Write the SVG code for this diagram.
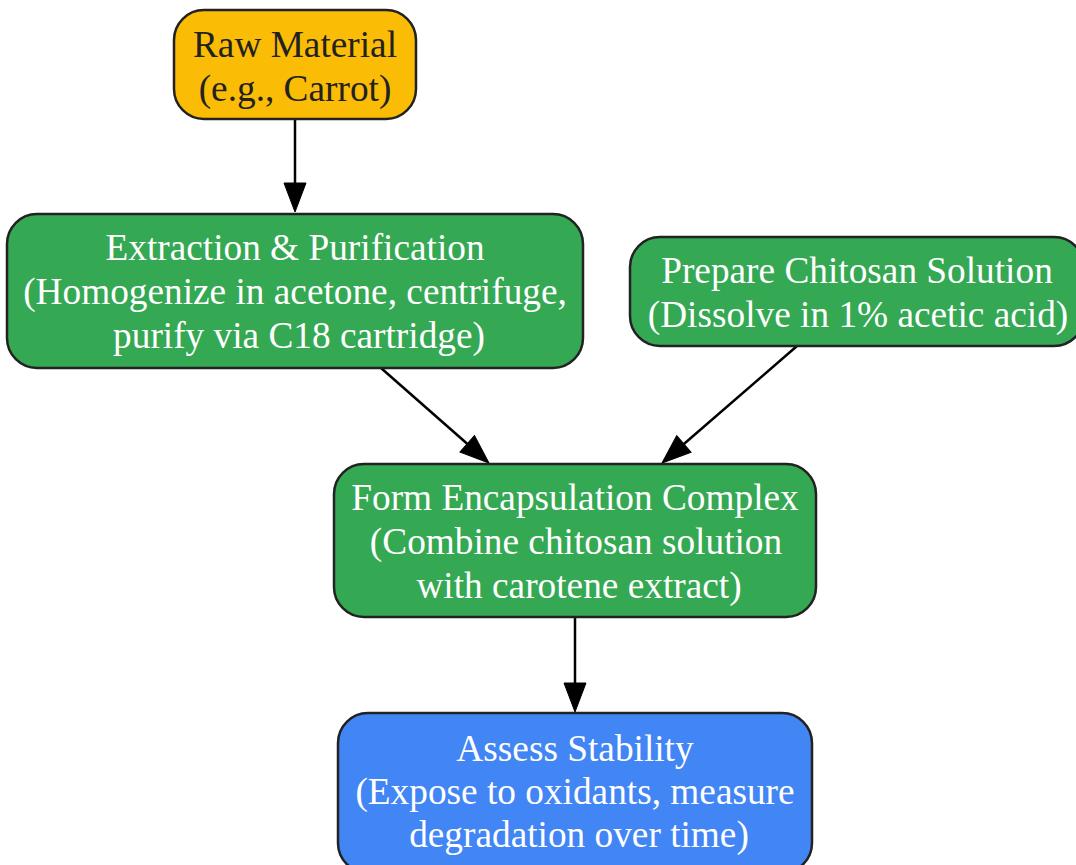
<svg xmlns="http://www.w3.org/2000/svg" width="1076" height="865" viewBox="0 0 1076 865">
<style>
.n{stroke:#222;stroke-width:2.5}
.t{font-family:"Liberation Serif","Times New Roman",serif;font-size:37.3px;text-anchor:middle}
.w{fill:#ffffff}
.d{fill:#222222}
.e{stroke:#000;stroke-width:2.5;fill:none}
</style>
<defs>
<marker id="ah" markerUnits="userSpaceOnUse" markerWidth="32" markerHeight="26" refX="0" refY="0" viewBox="-1 -13 32 26" orient="auto">
<path d="M0,-11 L29,0 L0,11 z" fill="#000" stroke="#000" stroke-width="1"/>
</marker>
</defs>
<rect width="1076" height="865" fill="#fff"/>
<g id="connectors">
<line class="e" x1="295" y1="119" x2="295" y2="183" marker-end="url(#ah)"/>
<line class="e" x1="381" y1="368" x2="467.2" y2="443.8" marker-end="url(#ah)"/>
<line class="e" x1="797" y1="346" x2="683.9" y2="444" marker-end="url(#ah)"/>
<line class="e" x1="575" y1="617" x2="575" y2="683" marker-end="url(#ah)"/>
</g>
<g id="raw">
<rect class="n" x="174" y="10" width="242" height="109" rx="30" fill="#FBBC05"/>
<text class="t d" x="295" y="57">Raw Material</text>
<text class="t d" x="295" y="101">(e.g., Carrot)</text>
</g>
<g id="extraction">
<rect class="n" x="7" y="214" width="576" height="154" rx="30" fill="#34A853"/>
<text class="t w" x="295" y="260">Extraction &amp; Purification</text>
<text class="t w" x="295" y="304">(Homogenize in acetone, centrifuge,</text>
<text class="t w" x="299" y="348">purify via C18 cartridge)</text>
</g>
<g id="chitosan">
<rect class="n" x="630" y="237" width="454" height="109" rx="30" fill="#34A853"/>
<text class="t w" x="857" y="283">Prepare Chitosan Solution</text>
<text class="t w" x="858" y="327">(Dissolve in 1% acetic acid)</text>
</g>
<g id="complex">
<rect class="n" x="334" y="464" width="482" height="153" rx="30" fill="#34A853"/>
<text class="t w" x="575" y="510">Form Encapsulation Complex</text>
<text class="t w" x="576" y="554">(Combine chitosan solution</text>
<text class="t w" x="579" y="598">with carotene extract)</text>
</g>
<g id="stability">
<rect class="n" x="338" y="713" width="474" height="160" rx="30" fill="#4285F4"/>
<text class="t w" x="575" y="761">Assess Stability</text>
<text class="t w" x="575" y="804">(Expose to oxidants, measure</text>
<text class="t w" x="579" y="847">degradation over time)</text>
</g>
</svg>
